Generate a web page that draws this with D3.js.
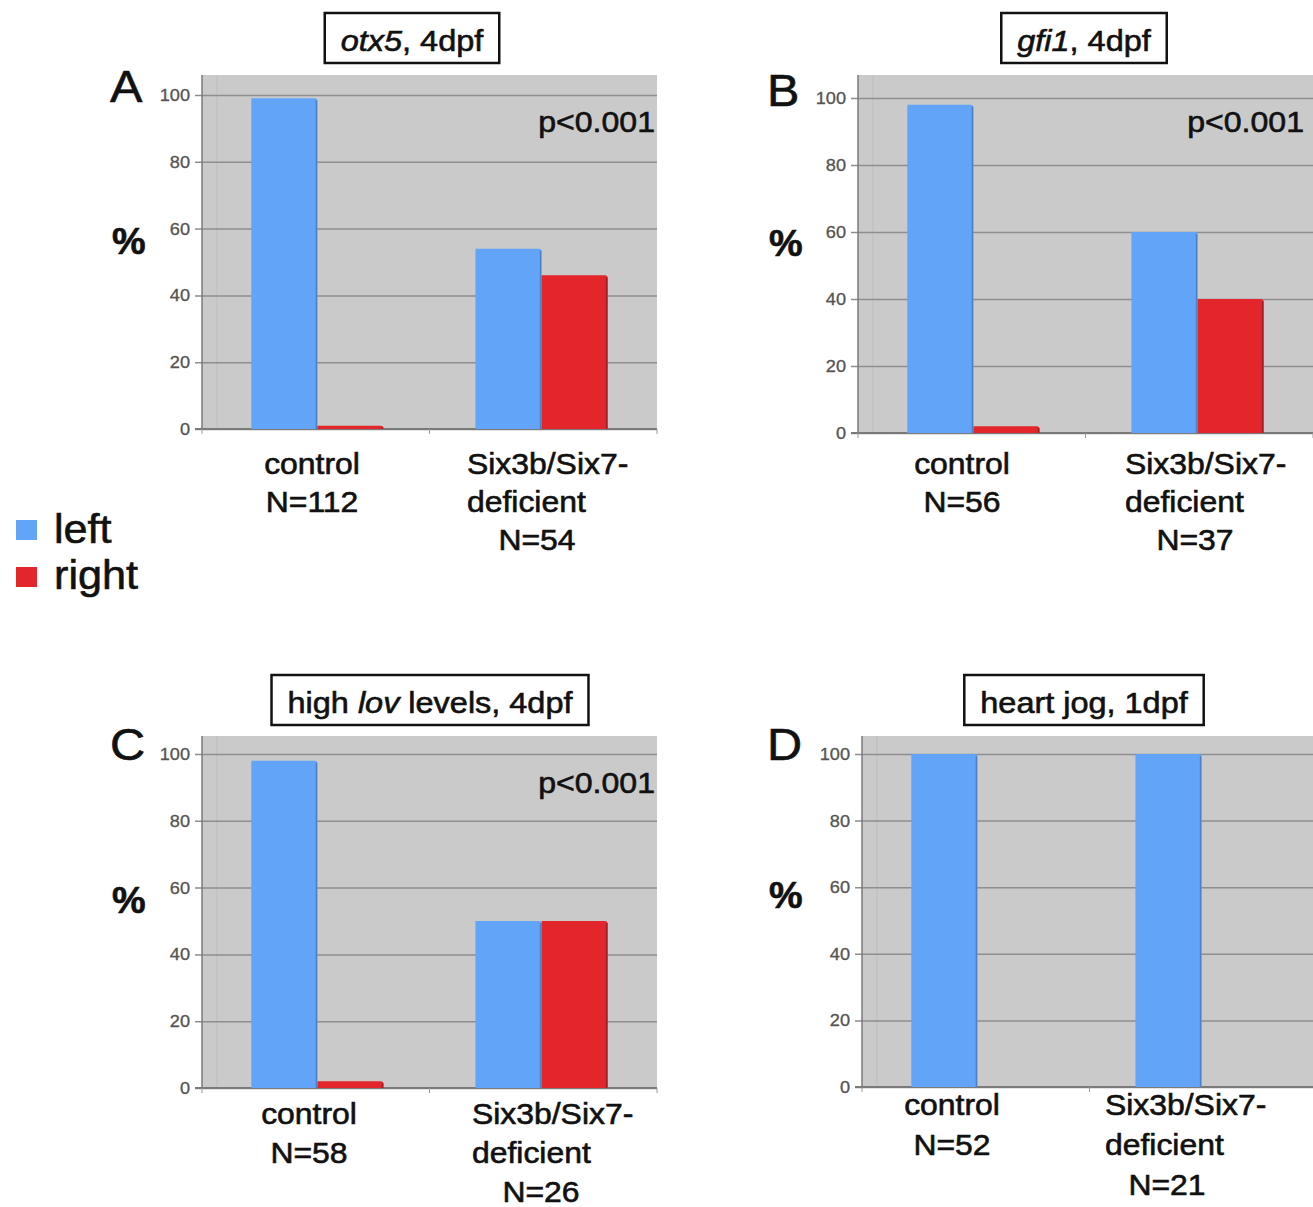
<!DOCTYPE html>
<html>
<head>
<meta charset="utf-8">
<script src="https://cdn.jsdelivr.net/npm/d3@7"></script>
<style>
  body { margin: 0; background: #fff; }
  svg { display: block; }
  text { font-family: "Liberation Sans", Arial, Helvetica, sans-serif; fill: #111; stroke: #111; stroke-width: 0.6px; }
  text.tick-label { fill: #555; stroke: #555; stroke-width: 0.3px; }
</style>
</head>
<body>
<div id="chart"></div>
<script>
// data
const panelLetters = ['A', 'B', 'C', 'D'];
const groups = ['control', 'Six3b/Six7-deficient'];
const seriesNames = ['left', 'right'];
const leftValues = [[99, 54], [98, 60], [98, 50], [100, 100]];
const rightValues = [[1, 46], [2, 40], [2, 50], [0, 0]];
const sampleSizes = [[112, 54], [56, 37], [58, 26], [52, 21]];
const pLabels = ['p<0.001', 'p<0.001', 'p<0.001', ''];
const titleParts = [
  [['otx5', true], [', 4dpf', false]],
  [['gfi1', true], [', 4dpf', false]],
  [['high ', false], ['lov', true], [' levels, 4dpf', false]],
  [['heart jog, 1dpf', false]]
];
const yTicks = [0, 20, 40, 60, 80, 100];

// layout, one entry per panel
const layout = [
  { left: 202, top: 75, zero: 429, y100: 95, titleX: 412, titleY: 13, labY: 474, gap: 38, ctrlX: 110, sixX: 265, sixNX: 335, letterX: 110, letterY: 102, pctY: 254, pRight: 655 },
  { left: 858, top: 75, zero: 433, y100: 98, titleX: 1084, titleY: 13, labY: 474, gap: 38, ctrlX: 104, sixX: 267, sixNX: 337, letterX: 767, letterY: 106, pctY: 256, pRight: 1304 },
  { left: 202, top: 736, zero: 1088, y100: 754, titleX: 430, titleY: 675, labY: 1124, gap: 39, ctrlX: 107, sixX: 270, sixNX: 339, letterX: 110, letterY: 760, pctY: 913, pRight: 655 },
  { left: 862, top: 736, zero: 1087, y100: 754, titleX: 1084, titleY: 675, labY: 1115, gap: 40, ctrlX: 90, sixX: 243, sixNX: 305, letterX: 767, letterY: 760, pctY: 908, pRight: 0 }
];

const plotW = 455;
const SX = 1.1; // the figure is a bit stretched horizontally
const colors = { left: '#62a5f8', right: '#e2262b' };
const edge = { left: '#4a82c8', right: '#a81c22' };

const svg = d3.select('#chart').append('svg')
  .attr('width', 1313)
  .attr('height', 1207);

function stext(parent, x, y, str, size, anchor, sx) {
  return parent.append('text')
    .attr('transform', 'translate(' + x + ',' + y + ') scale(' + (sx || SX) + ',1)')
    .attr('text-anchor', anchor || 'start')
    .style('font-size', size + 'px')
    .text(str);
}

panelLetters.forEach((letter, p) => {
  let L = layout[p];
  let g = svg.append('g');

  let y = d3.scaleLinear().domain([0, 100]).range([L.zero, L.y100]);
  let x0 = d3.scaleBand().domain(groups).range([L.left, L.left + plotW])
    .paddingInner(0.41).paddingOuter(0.22);
  let x1 = d3.scaleBand().domain(seriesNames).range([0, x0.bandwidth()]);

  // plot background
  g.append('rect')
    .attr('x', L.left).attr('y', L.top)
    .attr('width', plotW).attr('height', L.zero - L.top)
    .attr('fill', '#cacaca');
  g.append('line')
    .attr('x1', L.left + 15).attr('x2', L.left + 15)
    .attr('y1', L.top).attr('y2', L.zero)
    .attr('stroke', '#bdbdbd').attr('stroke-width', 1);

  // grid lines
  let ax = g.append('g').attr('transform', 'translate(' + (L.left + plotW) + ',0)')
    .call(d3.axisRight(y).tickValues(yTicks).tickSize(-(plotW + 7)).tickFormat(''));
  ax.select('.domain').remove();
  ax.selectAll('.tick line').attr('stroke', '#8e8e8e').attr('stroke-width', 1.5);

  yTicks.forEach(t => {
    stext(g, L.left - 12, y(t) + 6, String(t), 16.5, 'end').attr('class', 'tick-label');
  });

  // left border and base line
  g.append('line').attr('x1', L.left).attr('x2', L.left)
    .attr('y1', L.top).attr('y2', L.zero).attr('stroke', '#7a7a7a').attr('stroke-width', 1.5);
  g.append('line').attr('x1', L.left - 7).attr('x2', L.left + plotW)
    .attr('y1', L.zero).attr('y2', L.zero).attr('stroke', '#7a7a7a').attr('stroke-width', 2);
  [0, 1, 2].forEach(i => {
    let xx = L.left + i * plotW / 2;
    g.append('line').attr('x1', xx).attr('x2', xx)
      .attr('y1', L.zero).attr('y2', L.zero + 5).attr('stroke', '#9a9a9a');
  });

  // bars
  groups.forEach((grp, gi) => {
    let vals = { left: leftValues[p][gi], right: rightValues[p][gi] };
    seriesNames.forEach(s => {
      let v = vals[s];
      if (v <= 0) return;
      let bx = x0(grp) + x1(s);
      let bw = x1.bandwidth();
      g.append('path')
        .attr('d', () => {
          let top = y(v), bot = y(0), r = Math.min(3, bot - top);
          return 'M' + bx + ',' + bot + 'V' + top + 'H' + (bx + bw - r) +
            'Q' + (bx + bw) + ',' + top + ' ' + (bx + bw) + ',' + (top + r) + 'V' + bot + 'Z';
        })
        .attr('fill', colors[s]);
      g.append('line')
        .attr('x1', bx + bw - 1).attr('x2', bx + bw - 1)
        .attr('y1', y(v) + 2).attr('y2', y(0))
        .attr('stroke', edge[s]).attr('stroke-width', 1.5);
    });
  });

  // panel letter, % label, p value
  stext(g, L.letterX, L.letterY, letter, 45, 'start', 1.08);
  stext(g, L.letterX + 2, L.pctY, '%', 36, 'start', 1.05).style('font-weight', 'bold');
  if (pLabels[p]) stext(g, L.pRight, L.top + 57, pLabels[p], 30, 'end', 1.07);

  // title box
  let tt = g.append('text')
    .attr('transform', 'translate(' + L.titleX + ',' + (L.titleY + 38) + ') scale(' + SX + ',1)')
    .attr('text-anchor', 'middle')
    .style('font-size', '29.5px');
  titleParts[p].forEach(part => {
    tt.append('tspan').text(part[0]).style('font-style', part[1] ? 'italic' : 'normal');
  });
  let tw = tt.node().getComputedTextLength() * SX;
  g.insert('rect', () => tt.node())
    .attr('x', L.titleX - tw / 2 - 16).attr('y', L.titleY)
    .attr('width', tw + 32).attr('height', 50)
    .attr('fill', '#fff').attr('stroke', '#111').attr('stroke-width', 2.5);

  // category labels
  stext(g, L.left + L.ctrlX, L.labY, groups[0], 29, 'middle');
  stext(g, L.left + L.ctrlX, L.labY + L.gap, 'N=' + sampleSizes[p][0], 29, 'middle');
  let parts = groups[1].split('-');
  stext(g, L.left + L.sixX, L.labY, parts[0] + '-', 29, 'start');
  stext(g, L.left + L.sixX, L.labY + L.gap, parts[1], 29, 'start');
  stext(g, L.left + L.sixNX, L.labY + 2 * L.gap, 'N=' + sampleSizes[p][1], 29, 'middle');
});

// legend
let leg = svg.append('g');
seriesNames.forEach((s, i) => {
  leg.append('rect').attr('x', 16).attr('y', 520 + i * 47)
    .attr('width', 21).attr('height', 20).attr('fill', colors[s]);
  stext(leg, 54, 543 + i * 46, s, 40, 'start', 1.08);
});
</script>
</body>
</html>
